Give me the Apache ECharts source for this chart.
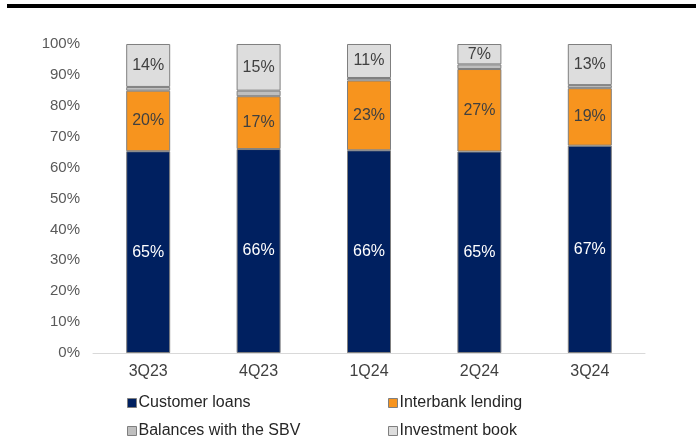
<!DOCTYPE html>
<html>
<head>
<meta charset="utf-8">
<script src="https://cdn.jsdelivr.net/npm/echarts@6/dist/echarts.min.js"></script>
<style>
  html, body { margin: 0; padding: 0; background: #ffffff; }
  #chart { width: 696px; height: 441px; }
</style>
</head>
<body>
<div id="chart"></div>
<script>
// Quarters on the category axis
const categories = ['3Q23', '4Q23', '1Q24', '2Q24', '3Q24'];

// Share of earning assets by component (%)
const customerLoans    = [65.3, 66.0, 65.6, 65.2, 67.1];
const interbankLending = [19.6, 17.1, 22.6, 26.7, 18.6];
const balancesSBV      = [1.2, 1.8, 0.8, 1.5, 1.0];
const investmentBook   = [13.9, 15.1, 11.0, 6.6, 13.3];

const seriesNames = ['Customer loans', 'Interbank lending', 'Balances with the SBV', 'Investment book'];

const FONT = '"Liberation Sans", Arial, sans-serif';
const BORDER = '#7f7f7f';

function pctLabel(color) {
  return {
    show: true,
    position: 'inside',
    color: color,
    fontFamily: FONT,
    fontSize: 16,
    formatter: p => Math.round(p.value) + '%'
  };
}

function barSeries(name, data, fill, label) {
  return {
    name: name,
    type: 'bar',
    stack: 'total',
    barWidth: 44,
    data: data,
    itemStyle: { color: fill, borderColor: BORDER, borderWidth: 1 },
    label: label || { show: false },
    emphasis: { disabled: true }
  };
}

// One legend block per entry so the two columns line up
const legendSlots = [
  { left: 127, top: 394 },
  { left: 388, top: 394 },
  { left: 127, top: 422 },
  { left: 388, top: 422 }
];
const legends = seriesNames.map((n, i) => ({
  data: [n],
  left: legendSlots[i].left,
  top: legendSlots[i].top,
  padding: 0,
  itemWidth: 9,
  itemHeight: 9,
  icon: 'rect',
  selectedMode: false,
  itemStyle: { borderColor: BORDER, borderWidth: 1 },
  textStyle: { fontFamily: FONT, fontSize: 16, color: '#262626', padding: [0, 0, 0, -3], lineHeight: 18 }
}));

const chart = echarts.init(document.getElementById('chart'), null, { renderer: 'canvas' });
chart.setOption({
  animation: false,
  backgroundColor: '#ffffff',
  graphic: [{
    type: 'rect',
    shape: { x: 7, y: 4, width: 689, height: 4 },
    style: { fill: '#000000' }
  }],
  legend: legends,
  grid: { left: 93, right: 51, top: 44, bottom: 88 },
  xAxis: {
    type: 'category',
    data: categories,
    axisLine: { lineStyle: { color: '#d9d9d9', width: 1 } },
    axisTick: { show: false },
    axisLabel: { fontFamily: FONT, fontSize: 16, color: '#404040', margin: 11 }
  },
  yAxis: {
    type: 'value',
    min: 0,
    max: 100,
    interval: 10,
    axisLine: { show: false },
    axisTick: { show: false },
    splitLine: { show: false },
    axisLabel: { fontFamily: FONT, fontSize: 15, color: '#595959', margin: 13, formatter: '{value}%' }
  },
  series: [
    barSeries(seriesNames[0], customerLoans, '#002060', pctLabel('#ffffff')),
    barSeries(seriesNames[1], interbankLending, '#f7941e', pctLabel('#404040')),
    barSeries(seriesNames[2], balancesSBV, '#bfbfbf'),
    barSeries(seriesNames[3], investmentBook, '#dddddd', pctLabel('#404040'))
  ]
});
</script>
</body>
</html>
